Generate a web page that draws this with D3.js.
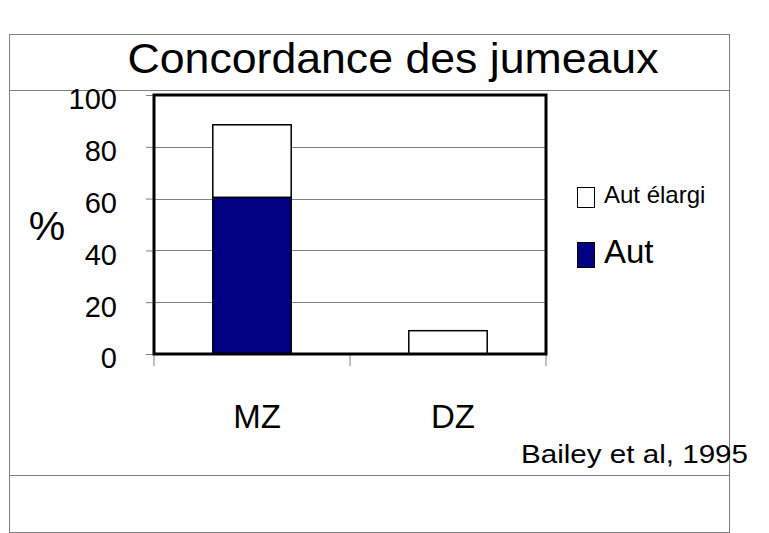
<!DOCTYPE html>
<html>
<head>
<meta charset="utf-8">
<script src="https://cdn.jsdelivr.net/npm/d3@7"></script>
<style>
  body { margin: 0; background: #fff; }
  text { font-family: "Liberation Sans", Arial, sans-serif; fill: #000; }
</style>
</head>
<body>
<div id="chart"></div>
<script>
// chart data
const categories = ["MZ", "DZ"];
const autValues = [60.5, 0];
const elargiValues = [28, 9];
const yTicks = [0, 20, 40, 60, 80, 100];
const legendLabels = ["Aut élargi", "Aut"];

const W = 769, H = 533;
const plot = {left: 154, right: 546, top: 95, bottom: 354};

const svg = d3.select("#chart").append("svg")
  .attr("width", W)
  .attr("height", H);

// slide frame
svg.append("rect")
  .attr("x", 9.5).attr("y", 34.5)
  .attr("width", 720).attr("height", 498)
  .attr("fill", "none").attr("stroke", "#7f7f7f");
[90.5, 475.5].forEach(yy => {
  svg.append("line")
    .attr("x1", 9.5).attr("x2", 729.5)
    .attr("y1", yy).attr("y2", yy)
    .attr("stroke", "#7f7f7f");
});

// title
svg.append("text")
  .attr("x", 393).attr("y", 73)
  .attr("text-anchor", "middle")
  .attr("font-size", 43)
  .attr("textLength", 531).attr("lengthAdjust", "spacingAndGlyphs")
  .text("Concordance des jumeaux");

// scales
var x = d3.scaleBand()
  .domain(categories)
  .range([plot.left, plot.right])
  .paddingInner(0.6)
  .paddingOuter(0.3);

var y = d3.scaleLinear()
  .domain([0, 100])
  .range([plot.bottom, plot.top]);

// gridlines
svg.append("g")
  .selectAll("line")
  .data(yTicks.filter(t => t > 0 && t < 100))
  .enter().append("line")
  .attr("x1", plot.left).attr("x2", plot.right)
  .attr("y1", d => Math.round(y(d)) + 0.5)
  .attr("y2", d => Math.round(y(d)) + 0.5)
  .attr("stroke", "#808080");

// y axis
const yAxis = svg.append("g")
  .attr("transform", "translate(" + plot.left + ",0)")
  .call(d3.axisLeft(y).tickValues(yTicks).tickSize(8).tickPadding(29));
yAxis.select(".domain").remove();
yAxis.selectAll(".tick line").attr("stroke", "#808080");
yAxis.selectAll(".tick text")
  .attr("font-size", 29)
  .attr("font-family", "Liberation Sans, Arial, sans-serif")
  .attr("dy", "0.48em");

// % label
svg.append("text")
  .attr("x", 47).attr("y", 240)
  .attr("text-anchor", "middle")
  .attr("font-size", 41)
  .text("%");

// category separators below the plot
const bounds = d3.range(categories.length + 1).map(i => plot.left + i * x.step());
svg.append("g")
  .selectAll("line")
  .data(bounds)
  .enter().append("line")
  .attr("x1", d => d).attr("x2", d => d)
  .attr("y1", plot.bottom).attr("y2", plot.bottom + 12)
  .attr("stroke", "#808080");

// category labels
svg.append("g")
  .selectAll("text")
  .data(categories)
  .enter().append("text")
  .attr("x", d => x(d) + x.bandwidth() / 2 + 5)
  .attr("y", 428)
  .attr("text-anchor", "middle")
  .attr("font-size", 33)
  .text(d => d);

// bars: Aut (bottom) then Aut élargi (stacked on top)
svg.append("g")
  .selectAll("rect")
  .data(categories.filter((c, i) => autValues[i] > 0))
  .enter().append("rect")
  .attr("x", d => x(d))
  .attr("y", d => y(autValues[categories.indexOf(d)]))
  .attr("width", x.bandwidth())
  .attr("height", d => y(0) - y(autValues[categories.indexOf(d)]))
  .attr("fill", "#000080")
  .attr("stroke", "#000")
  .attr("stroke-width", 1.5);

svg.append("g")
  .selectAll("rect")
  .data(categories)
  .enter().append("rect")
  .attr("x", d => x(d))
  .attr("y", (d, i) => y(autValues[i] + elargiValues[i]))
  .attr("width", x.bandwidth())
  .attr("height", (d, i) => y(autValues[i]) - y(autValues[i] + elargiValues[i]))
  .attr("fill", "#fff")
  .attr("stroke", "#000")
  .attr("stroke-width", 1.5);

// plot border
svg.append("rect")
  .attr("x", plot.left).attr("y", plot.top)
  .attr("width", plot.right - plot.left)
  .attr("height", plot.bottom - plot.top)
  .attr("fill", "none")
  .attr("stroke", "#000")
  .attr("stroke-width", 3);

// legend
const legendFill = ["#fff", "#000080"];
const legendY = [187, 242];
const legendBoxH = [20, 25];
const legendSize = [24, 33];
const legendBase = [203, 263];
const leg = svg.append("g");
legendLabels.forEach((lab, i) => {
  leg.append("rect")
    .attr("x", 577.5).attr("y", legendY[i] + 0.5)
    .attr("width", 17).attr("height", legendBoxH[i])
    .attr("fill", legendFill[i])
    .attr("stroke", "#000");
  leg.append("text")
    .attr("x", 604).attr("y", legendBase[i])
    .attr("font-size", legendSize[i])
    .text(lab);
});

// source
svg.append("text")
  .attr("x", 521).attr("y", 463)
  .attr("font-size", 25)
  .attr("textLength", 227).attr("lengthAdjust", "spacingAndGlyphs")
  .text("Bailey et al, 1995");
</script>
</body>
</html>
